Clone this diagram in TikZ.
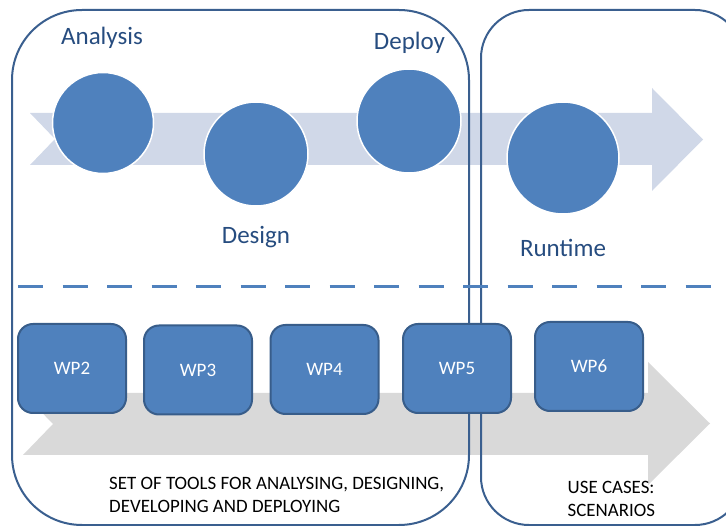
\documentclass[tikz,border=0pt]{standalone}
\usepackage{fontspec}
\setmainfont{Carlito}
\definecolor{cblue}{HTML}{4F81BD}
\definecolor{cborder}{HTML}{385D8A}
\definecolor{cframe}{HTML}{3A5F8F}
\definecolor{clight}{HTML}{D0D8E8}
\definecolor{cgray}{HTML}{D9D9D9}
\definecolor{clabel}{HTML}{264C7F}
\begin{document}
\begin{tikzpicture}[x=1pt,y=-1pt,
  phase/.style={circle,fill=cblue,draw=white,line width=1.5pt,inner sep=0pt},
  phaselabel/.style={anchor=base,text=clabel,font=\fontsize{25}{30}\selectfont,inner sep=0pt},
  wpbox/.style={rectangle,rounded corners=15pt,fill=cblue,draw=cborder,line width=2pt,
    minimum width=108pt,minimum height=89pt,text=white,font=\fontsize{19}{23}\selectfont},
  frame/.style={draw=cframe,line width=2pt},
  bottomtext/.style={anchor=north west,inner sep=0pt,align=left,text=black,
    font=\fontsize{18.9}{23}\selectfont}]
\useasboundingbox (0,0) rectangle (726,526);
\clip (0,0) rectangle (726,526);
% light process arrow
\fill[clight] (30,113) -- (652,113) -- (652,88) -- (703,139.5) -- (652,191) -- (652,165)
  -- (30,165) -- (55,139) -- cycle;
% gray tools arrow
\fill[cgray] (23,393) -- (648,393) -- (648,362) -- (710,423.5) -- (648,485) -- (648,455)
  -- (23,455) -- (53,424) -- cycle;
% frames
\draw[frame,rounded corners=70pt] (12,10) rectangle (469,525);
\draw[frame,rounded corners=48pt] (481,10) rectangle (743,525);
% dashed separator
\coordinate (dl) at (18,287);
\coordinate (dr) at (740,287);
\draw[cblue,line width=3pt,dash pattern=on 25pt off 19.5pt] (dl) -- (dr);
% phases
\node[phase,minimum size=101pt] (analysis) at (103,123) {};
\node[phase,minimum size=104pt] (design) at (256,154) {};
\node[phase,minimum size=104pt] (deploy) at (409,121) {};
\node[phase,minimum size=112pt] (runtime) at (563,158) {};
\node[phaselabel] (lanalysis) at (102,45) {Analysis};
\node[phaselabel] (ldesign) at (256,244) {Design};
\node[phaselabel] (ldeploy) at (409.5,49.5) {Deploy};
\node[phaselabel] (lruntime) at (563,257) {Runtime};
% work packages
\node[wpbox] (wp2) at (72,368.5) {WP2};
\node[wpbox] (wp3) at (198,370) {WP3};
\node[wpbox] (wp4) at (324.5,369.5) {WP4};
\node[wpbox] (wp5) at (457,368.5) {WP5};
\node[wpbox] (wp6) at (589,366.5) {WP6};
% bottom texts
\node[bottomtext] (tools) at (109,477) {SET OF TOOLS FOR ANALYSING, DESIGNING,\\DEVELOPING AND DEPLOYING};
\node[bottomtext] (usecases) at (567.5,481) {USE CASES:\\SCENARIOS};
\end{tikzpicture}
\end{document}
